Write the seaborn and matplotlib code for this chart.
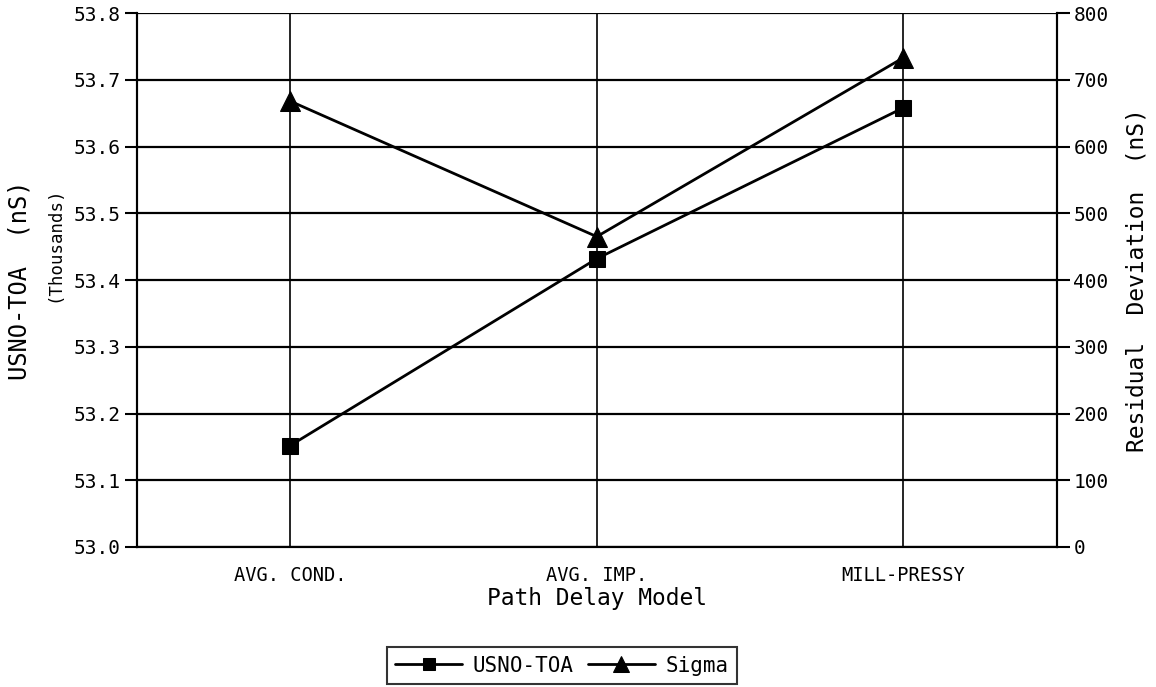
import pandas as pd
import seaborn as sns
import matplotlib.pyplot as plt

# valores
modelos = ['AVG. COND.', 'AVG. IMP.', 'MILL-PRESSY']
usno_toa = [53.152, 53.432, 53.658]   # milhares de nS
sigma = [668, 465, 733]               # nS

dados = pd.DataFrame({'modelo': modelos, 'usno_toa': usno_toa, 'sigma': sigma})

sns.set_style('white')
plt.rcParams['font.family'] = ['DejaVu Sans Mono']
plt.rcParams['text.color'] = 'black'
plt.rcParams['axes.labelcolor'] = 'black'

fig = plt.figure(figsize=(11.56, 6.87), dpi=100)
ax = fig.add_axes([0.1185, 0.2038, 0.7955, 0.7772])
ax2 = ax.twinx()

sns.lineplot(x='modelo', y='usno_toa', data=dados, ax=ax, color='black',
             marker='s', markersize=11, linewidth=2, markeredgecolor='black',
             sort=False, label='USNO-TOA', legend=False)
sns.lineplot(x='modelo', y='sigma', data=dados, ax=ax2, color='black',
             marker='^', markersize=14, linewidth=2, markeredgecolor='black',
             sort=False, label='Sigma', legend=False)

ax.set_ylim(53.0, 53.8)
ax.set_yticks([53.0 + i * 0.1 for i in range(9)])
ax.set_yticklabels([f'{53.0 + i * 0.1:.1f}' for i in range(9)])
ax2.set_ylim(0, 800)
ax2.set_yticks(range(0, 801, 100))
ax.set_xlim(-0.5, 2.5)

# grade: horizontais em cada tick, verticais em cada categoria
for v in ax.get_yticks():
    ax.axhline(v, color='black', linewidth=1.6, zorder=0)
for i in range(len(modelos)):
    ax.axvline(i, color='black', linewidth=1.2, zorder=0)

for a in (ax, ax2):
    for s in a.spines.values():
        s.set_color('black')
        s.set_linewidth(1.5)
    a.tick_params(axis='y', direction='out', length=9, width=1.5, labelsize=14,
                  colors='black', pad=3)
ax.tick_params(axis='x', direction='inout', length=12, width=1.2, labelsize=13.5,
               colors='black', pad=8)
ax.spines['top'].set_visible(False)
ax2.spines['top'].set_visible(False)

ax.set_xlabel('Path Delay Model', fontsize=16.5, labelpad=1)
ax.set_ylabel('')
ax2.set_ylabel('Residual  Deviation  (nS)', fontsize=16.5, labelpad=12)
fig.text(0.017, 0.592, 'USNO-TOA  (nS)', rotation=90, ha='center', va='center', fontsize=17)
fig.text(0.047, 0.645, '(Thousands)', rotation=90, ha='center', va='center', fontsize=12.5)

handles = ax.get_lines()[:1] + ax2.get_lines()[:1]
leg = fig.legend(handles, ['USNO-TOA', 'Sigma'], loc='center',
                 bbox_to_anchor=(0.486, 0.031), ncol=2, frameon=True,
                 fontsize=15, fancybox=False, handlelength=3.2, columnspacing=0.7,
                 handletextpad=0.5, borderpad=0.4, borderaxespad=0.3,
                 markerscale=0.8)
leg.get_frame().set_edgecolor('black')
leg.get_frame().set_linewidth(1.5)

fig.savefig('out.png', dpi=100)
